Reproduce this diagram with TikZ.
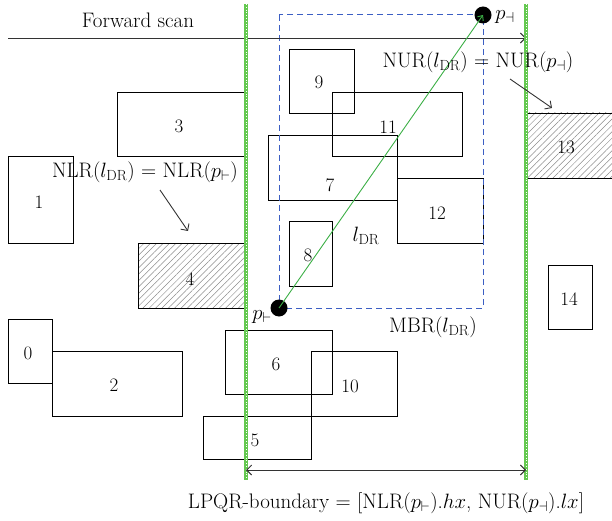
\documentclass[tikz,border=0pt]{standalone}
\usepackage{fontspec}
\setmainfont{Latin Modern Roman}
\usetikzlibrary{patterns.meta,arrows.meta}
\definecolor{gline}{RGB}{60,175,70}
\definecolor{gbound}{RGB}{100,200,80}
\definecolor{mbrblue}{RGB}{60,95,195}
\tikzset{
  box/.style={draw=black, line width=0.9pt},
  hatchbox/.style={box, pattern={Lines[angle=45,distance=4.5pt,line width=0.5pt]}, pattern color=gray!90},
  lbl/.style={font=\fontsize{19}{22}\selectfont, inner sep=0pt},
  txt/.style={font=\fontsize{21}{24}\selectfont, inner sep=0pt},
  barb/.style={-{Straight Barb[length=5pt,width=10pt]}, line width=0.9pt, draw=black!80},
  bound/.style={gbound, line width=4pt},
  bounddots/.style={white, line width=0.8pt, dotted},
  pdot/.style={circle, fill=black, minimum size=17pt, inner sep=0pt},
}
\begin{document}
\begin{tikzpicture}[x=1pt,y=-1pt]
\useasboundingbox (0,0) rectangle (612,521);
% rectangles
\draw[box] (117,92) rectangle (246,156);
\draw[box] (8,156) rectangle (73,243);
\draw[hatchbox] (138,243) rectangle (246,308);
\draw[box] (289,49) rectangle (354,113);
\draw[box] (332,92) rectangle (462,156);
\draw[box] (268,135) rectangle (397,200);
\draw[box] (397,178) rectangle (483,243);
\draw[hatchbox] (526,113) rectangle (614,178);
\draw[box] (289,221) rectangle (332,286);
\draw[box] (8,319) rectangle (52,383);
\draw[box] (52,351) rectangle (182,416);
\draw[box] (225,330) rectangle (332,394);
\draw[box] (311,351) rectangle (397,416);
\draw[box] (203,416) rectangle (311,459);
\draw[box] (548,265) rectangle (592,329);
% labels
\node[lbl] (n3) at (179,126) {3};
\node[lbl] (n1) at (39,202) {1};
\node[lbl] (n4) at (190,279) {4};
\node[lbl] (n9) at (319,82) {9};
\node[lbl] (n11) at (388,127) {11};
\node[lbl] (n7) at (330,185) {7};
\node[lbl] (n12) at (437,213) {12};
\node[lbl] (n13) at (566,147) {13};
\node[lbl] (n8) at (308,255) {8};
\node[lbl] (n0) at (28,353) {0};
\node[lbl] (n2) at (114,385) {2};
\node[lbl] (n6) at (276,364) {6};
\node[lbl] (n10) at (350,386) {10};
\node[lbl] (n5) at (255,440) {5};
\node[lbl] (n14) at (569,299) {14};
% MBR
\draw[mbrblue, dash pattern=on 6pt off 4pt, line width=1pt] (279,15) rectangle (483,308);
\node[txt] (mbr) at (433,327) {MBR($l_{\mathrm{DR}}$)};
% forward scan
\coordinate (fsA) at (8,38);
\coordinate (fsB) at (526,38);
\draw[barb] (fsA) -- (fsB);
\node[txt] (fs) at (138,20) {Forward scan};
% boundaries
\coordinate (bL1) at (246,4);
\coordinate (bL2) at (246,480);
\coordinate (bR1) at (526,4);
\coordinate (bR2) at (526,480);
\draw[bound] (bL1) -- (bL2);
\draw[bound] (bR1) -- (bR2);
\draw[bounddots] (bL1) -- (bL2);
\draw[bounddots] (bR1) -- (bR2);
% points
\node[pdot] (pL) at (279,308) {};
\node[pdot] (pR) at (483,15) {};
\node[txt] (pLl) at (262,317) {$p_{\vdash}$};
\node[txt] (pRl) at (505,17) {$p_{\dashv}$};
\draw[gline, line width=0.9pt, -{Straight Barb[length=4pt,width=7pt]}] (pL.center) -- (pR.center);
\node[txt] (ldr) at (366,236) {$l_{\mathrm{DR}}$};
% NLR / NUR
\node[txt] (nlr) at (145,172) {NLR($l_{\mathrm{DR}}$) = NLR($p_{\vdash}$)};
\coordinate (nlrA) at (160,190);
\coordinate (nlrB) at (188,231);
\draw[barb] (nlrA) -- (nlrB);
\node[txt] (nur) at (478,62) {NUR($l_{\mathrm{DR}}$) = NUR($p_{\dashv}$)};
\coordinate (nurA) at (510,79);
\coordinate (nurB) at (552,108);
\draw[barb] (nurA) -- (nurB);
% bottom
\coordinate (lpA) at (246,470);
\coordinate (lpB) at (526,470);
\draw[barb, {Straight Barb[length=5pt,width=10pt]}-{Straight Barb[length=5pt,width=10pt]}] (lpA) -- (lpB);
\node[txt] (lpqr) at (386,503) {LPQR-boundary = [NLR($p_{\vdash}$).$hx$, NUR($p_{\dashv}$).$lx$]};
\end{tikzpicture}
\end{document}
